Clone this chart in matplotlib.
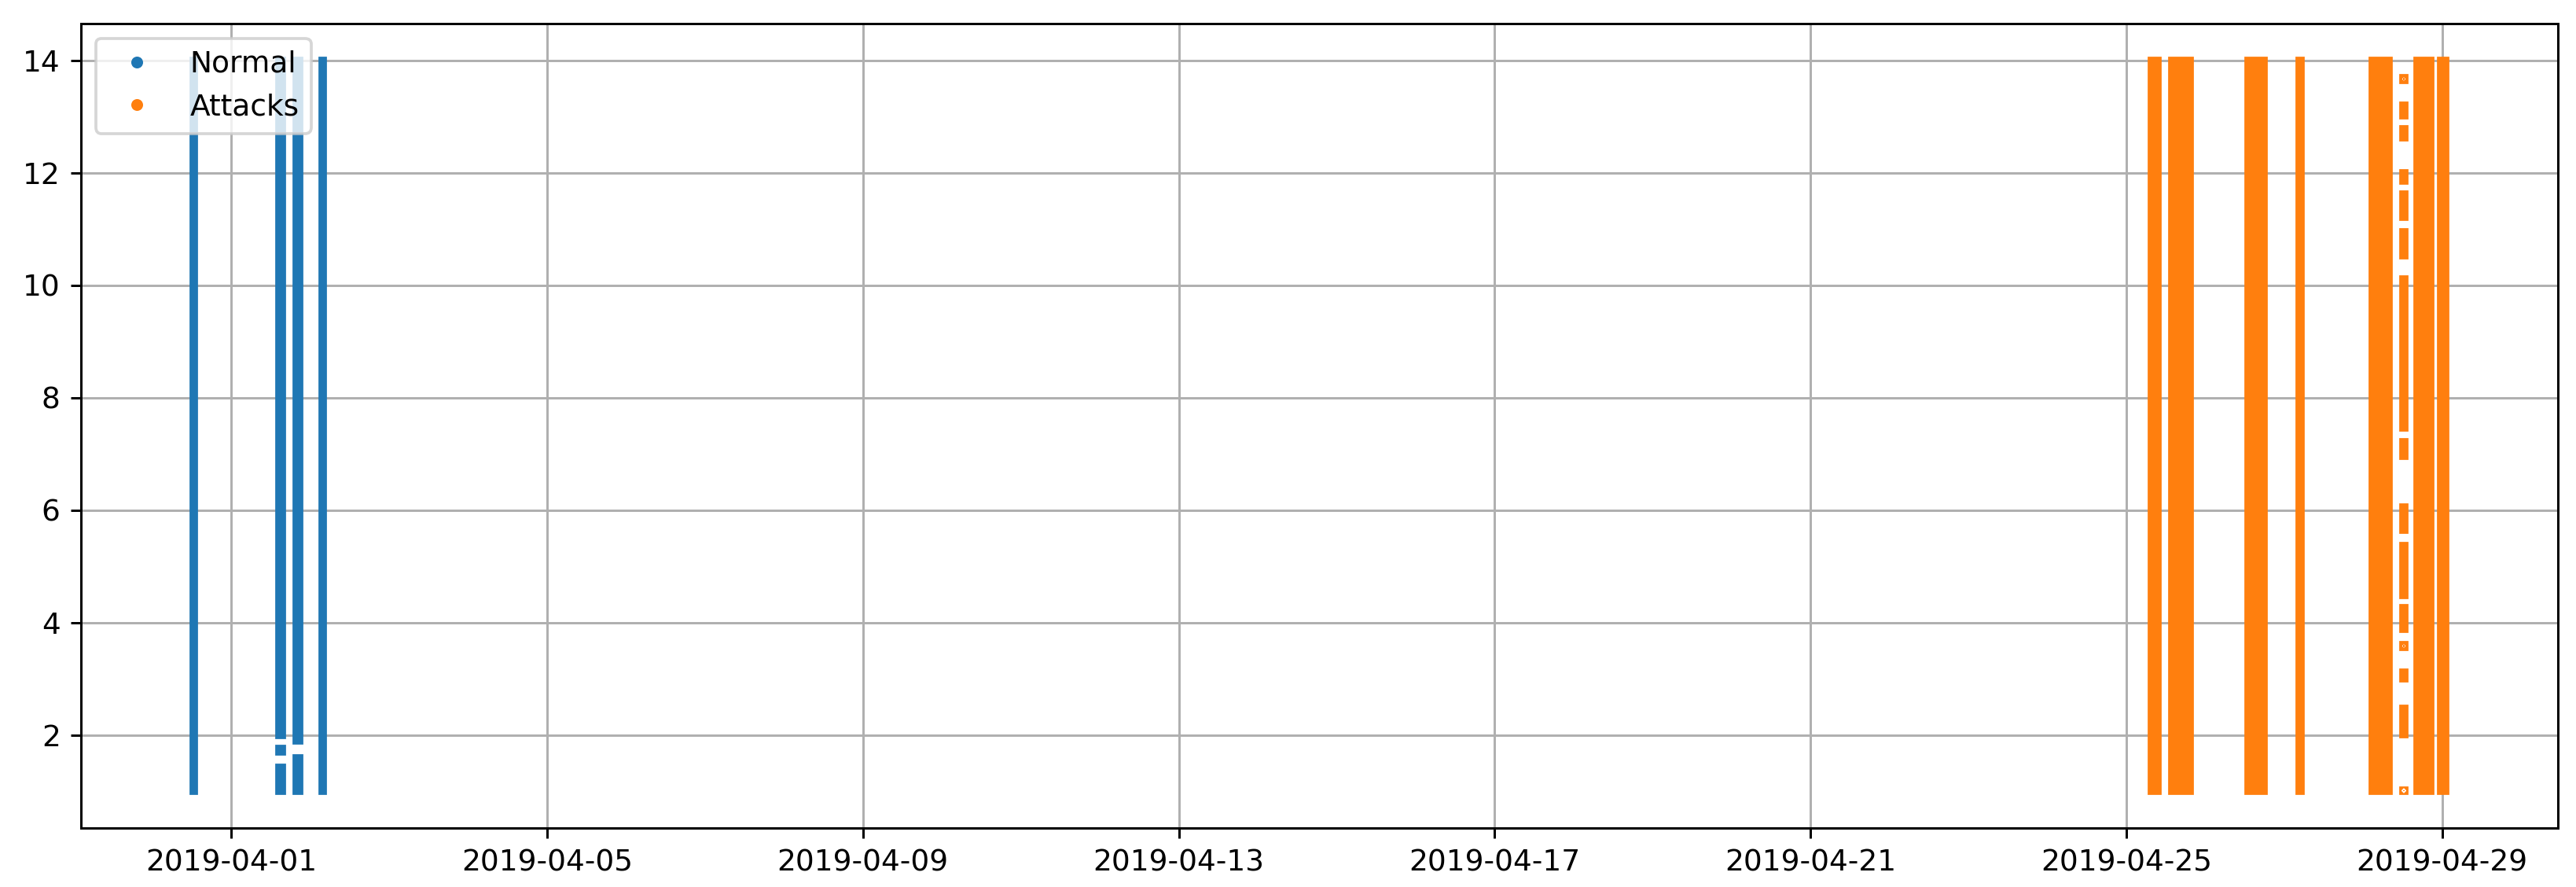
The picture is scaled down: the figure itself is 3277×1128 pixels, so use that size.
import pandas as pd
import matplotlib
matplotlib.use('Agg')
import matplotlib.pyplot as plt
import matplotlib.dates as mdates
from matplotlib.lines import Line2D

# bursts of points: one row per vertical run (start time, end time, lowest value, highest value)
normal_start = ['2019-03-31 12:30', '2019-04-01 14:35', '2019-04-01 14:35', '2019-04-01 14:35',
                '2019-04-01 19:50', '2019-04-01 19:50', '2019-04-02 03:40']
normal_end = ['2019-03-31 12:40', '2019-04-01 15:30', '2019-04-01 15:30', '2019-04-01 15:30',
              '2019-04-01 20:50', '2019-04-01 20:50', '2019-04-02 04:00']
normal_low = [1.0, 2.0, 1.70, 1.0, 1.9, 1.0, 1.0]
normal_high = [14.0, 14.0, 1.76, 1.42, 14.0, 1.6, 14.0]

attack_start = ['2019-04-25 07:45', '2019-04-25 14:00', '2019-04-26 13:10', '2019-04-27 04:40',
                '2019-04-28 02:55'] + ['2019-04-28 12:05'] * 15 + ['2019-04-28 16:20', '2019-04-28 23:30']
attack_end = ['2019-04-25 09:40', '2019-04-25 19:30', '2019-04-26 17:55', '2019-04-27 05:10',
              '2019-04-28 07:55'] + ['2019-04-28 12:35'] * 15 + ['2019-04-28 20:25', '2019-04-29 01:00']
attack_low = [1.0, 1.0, 1.0, 1.0, 1.0,
              13.65, 13.01, 12.62, 11.85, 11.21, 10.52, 7.46, 6.96, 5.65, 4.49, 3.89, 3.56, 3.01, 2.01, 1.0,
              1.0, 1.0]
attack_high = [14.0, 14.0, 14.0, 14.0, 14.0,
               13.69, 13.19, 12.78, 11.99, 11.62, 10.94, 10.10, 7.21, 6.05, 5.37, 4.26, 3.60, 3.12, 2.47, 1.02,
               14.0, 14.0]

dpi = 270
fig = plt.figure(figsize=(3277 / dpi, 1128 / dpi), dpi=dpi)
ax = fig.add_axes([0.0314, 0.0665, 0.9616, 0.9069])


def draw(starts, ends, lows, highs, color):
    x0 = mdates.date2num(pd.to_datetime(starts))
    x1 = mdates.date2num(pd.to_datetime(ends))
    ax.bar(x0, [h - l for l, h in zip(lows, highs)], width=x1 - x0, bottom=lows, align='edge',
           color=color, edgecolor=color, linewidth=2.6)


draw(normal_start, normal_end, normal_low, normal_high, '#1f77b4')
draw(attack_start, attack_end, attack_low, attack_high, '#ff7f0e')

ax.xaxis_date()
ax.xaxis.set_major_locator(mdates.DayLocator(bymonthday=[1, 5, 9, 13, 17, 21, 25, 29]))
ax.xaxis.set_major_formatter(mdates.DateFormatter('%Y-%m-%d'))
ax.set_ylim(0.35, 14.65)
ax.margins(x=0.05)
ax.set_axisbelow(True)
ax.grid(True)

handles = [Line2D([], [], marker='o', ls='', color='#1f77b4', markersize=3, label='Normal'),
           Line2D([], [], marker='o', ls='', color='#ff7f0e', markersize=3, label='Attacks')]
ax.legend(handles=handles, loc='upper left')

fig.savefig('out.png', dpi=dpi)
